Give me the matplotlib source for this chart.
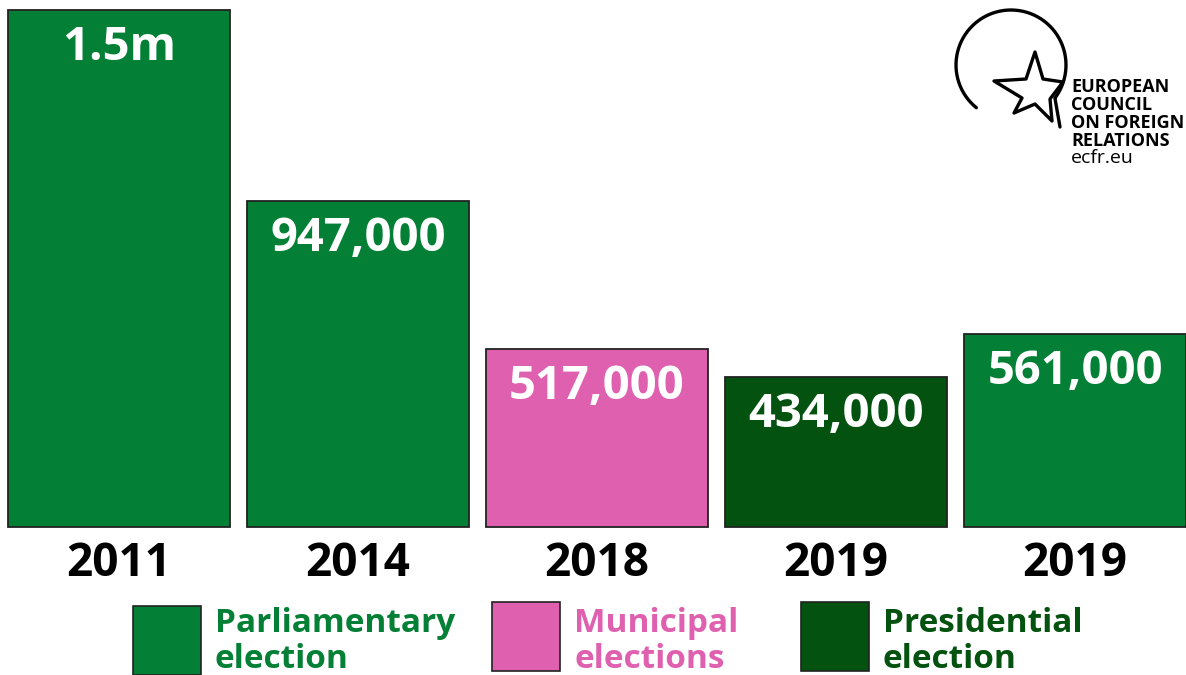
import matplotlib
matplotlib.use("Agg")
import matplotlib.pyplot as plt
import numpy as np
from matplotlib.patches import Rectangle, Polygon

# ---- data ----
years = ["2011", "2014", "2018", "2019", "2019"]
values = [1500000, 947000, 517000, 434000, 561000]
value_labels = ["1.5m", "947,000", "517,000", "434,000", "561,000"]
election_types = ["Parliamentary", "Parliamentary", "Municipal", "Presidential", "Parliamentary"]

legend_keys = ["Parliamentary", "Municipal", "Presidential"]
legend_line1 = ["Parliamentary", "Municipal", "Presidential"]
legend_line2 = ["election", "elections", "election"]
type_colors = {"Parliamentary": "#038035", "Municipal": "#E060B0", "Presidential": "#03520F"}

W, H = 1186, 675
fig = plt.figure(figsize=(W / 100, H / 100), dpi=100)
fig.patch.set_facecolor("white")

FONT = "Open Sans"

# main axes: bottom at y=527 px from top
AX_H = 527
ax = fig.add_axes([0, (H - AX_H) / H, 1, AX_H / H])
spacing = 239.0
x0 = 119.0
ax.set_xlim(-x0 / spacing, (W - x0) / spacing)
ax.set_ylim(0, 1500000 * AX_H / 517)
ax.axis("off")

xs = np.arange(len(values))
colors = [type_colors[t] for t in election_types]
ax.bar(xs, values, width=222 / spacing, color=colors, edgecolor="#222222",
       linewidth=1.3, clip_on=False)

# value labels inside bars
for x, v, lab in zip(xs, values, value_labels):
    ax.annotate(lab, xy=(x, v), xytext=(0, -50), textcoords="offset pixels",
                ha="center", va="baseline", color="white", fontsize=34,
                fontweight="bold", family=FONT)

# year labels (baseline at 576 px from top)
for x, y in zip(xs, years):
    ax.text(x, (AX_H - 576) / AX_H, y, transform=ax.get_xaxis_transform(),
            ha="center", va="baseline", fontsize=33, fontweight="bold",
            color="black", family=FONT)

# overlay axes in pixel coordinates for legend and logo
ov = fig.add_axes([0, 0, 1, 1])
ov.set_xlim(0, W)
ov.set_ylim(H, 0)
ov.axis("off")

leg_box_x = [133, 492, 801]
leg_box_y = [606, 602, 602]
for bx, by, key, l1, l2 in zip(leg_box_x, leg_box_y, legend_keys, legend_line1, legend_line2):
    c = type_colors[key]
    ov.add_patch(Rectangle((bx, by), 68, 69, facecolor=c, edgecolor="#222222",
                           linewidth=1.2, clip_on=False))
    ov.text(bx + 82, 632, l1, ha="left", va="baseline", color=c, fontsize=24,
            fontweight="bold", family=FONT)
    ov.text(bx + 82, 668, l2, ha="left", va="baseline", color=c, fontsize=24,
            fontweight="bold", family=FONT)

# logo: circle with tail and star
cx, cy, r = 1011, 65, 55
th = np.deg2rad(np.linspace(231, -37, 200))
arc_x = cx + r * np.cos(th)
arc_y = cy - r * np.sin(th)
arc_x = np.append(arc_x, 1060)
arc_y = np.append(arc_y, 127)
ov.plot(arc_x, arc_y, color="black", linewidth=2.4, solid_capstyle="round", zorder=3)
star_pts = [(1035, 52), (1043, 79), (1063, 82), (1050, 99), (1052, 121),
            (1035, 104), (1014, 113), (1022, 98), (994, 81), (1026, 79)]
ov.add_patch(Polygon(star_pts, closed=True, facecolor="white", edgecolor="black",
                     linewidth=2.4, joinstyle="round", zorder=4))
logo_lines = ["EUROPEAN", "COUNCIL", "ON FOREIGN", "RELATIONS"]
for i, t in enumerate(logo_lines):
    ov.text(1071, 92 + i * 18, t, ha="left", va="baseline", fontsize=13,
            fontweight="bold", family=FONT, color="black")
ov.text(1071, 163, "ecfr.eu", ha="left", va="baseline", fontsize=14,
        family=FONT, color="black")

fig.savefig("out.png", dpi=100, facecolor="white")
